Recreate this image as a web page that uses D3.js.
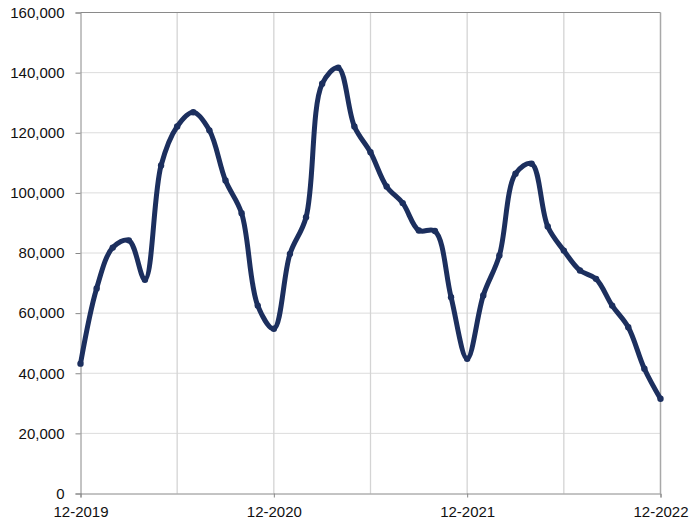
<!DOCTYPE html>
<html>
<head>
<meta charset="utf-8">
<script src="https://cdn.jsdelivr.net/npm/d3@7"></script>
<style>
  body { margin: 0; background: #fff; }
  svg { display: block; font-family: "Liberation Sans", Arial, sans-serif; }
</style>
</head>
<body>
<svg></svg>
<script>
const width = 691;
const height = 523;
const margin = {top: 12.5, right: 30.5, bottom: 29.5, left: 80.5};

// monthly values, 12-2019 .. 12-2022
const months = d3.range(37);
const values = [
  43200, 68200, 81800, 84200, 71100, 109100, 122100, 126800, 120800, 104100, 93200, 62500,
  54800, 79700, 91900, 136300, 141600, 122100, 113500, 102100, 96600, 87500, 87300, 65300,
  44800, 65900, 79200, 106400, 109700, 88800, 80800, 74200, 71400, 62500, 55300, 41500,
  31500
];
const xTickMonths = [0, 12, 24, 36];
const xTickLabels = ['12-2019', '12-2020', '12-2021', '12-2022'];
const gridMonths = [6, 18, 30, 12, 24];
const yTicks = d3.range(0, 160001, 20000);

const svg = d3.select('svg')
  .attr('width', width)
  .attr('height', height);

const x = d3.scaleLinear()
  .domain([0, 36])
  .range([margin.left, width - margin.right]);

const y = d3.scaleLinear()
  .domain([0, 160000])
  .range([height - margin.bottom, margin.top]);

// horizontal grid
svg.append('g')
  .selectAll('line')
  .data(yTicks.slice(1, -1))
  .enter()
  .append('line')
  .attr('x1', margin.left)
  .attr('x2', width - margin.right)
  .attr('y1', d => y(d))
  .attr('y2', d => y(d))
  .attr('stroke', '#dcdcdc')
  .attr('stroke-width', 1);

// vertical grid
svg.append('g')
  .selectAll('line')
  .data(gridMonths)
  .enter()
  .append('line')
  .attr('x1', d => x(d))
  .attr('x2', d => x(d))
  .attr('y1', margin.top)
  .attr('y2', height - margin.bottom)
  .attr('stroke', '#d4d4d4')
  .attr('stroke-width', 1.3);

// frame top / right
svg.append('line')
  .attr('x1', margin.left).attr('x2', width - margin.right)
  .attr('y1', margin.top).attr('y2', margin.top)
  .attr('stroke', '#8a8a8a');
svg.append('line')
  .attr('x1', width - margin.right).attr('x2', width - margin.right)
  .attr('y1', margin.top).attr('y2', height - margin.bottom)
  .attr('stroke', '#a8a8a8').attr('stroke-width', 1.5);

// y axis
const yAxis = svg.append('g')
  .attr('transform', `translate(${margin.left},0)`)
  .call(d3.axisLeft(y).tickValues(yTicks).tickFormat(d3.format(',')).tickSize(5).tickPadding(11));
yAxis.select('.domain').attr('stroke', '#888');
yAxis.selectAll('.tick line').attr('stroke', '#888');
yAxis.selectAll('text')
  .attr('fill', '#111')
  .attr('font-size', '15px')
  .attr('font-family', '"Liberation Sans", Arial, sans-serif');

// x axis
const xAxis = svg.append('g')
  .attr('transform', `translate(0,${height - margin.bottom})`)
  .call(d3.axisBottom(x).tickValues(xTickMonths).tickFormat((d, i) => xTickLabels[i]).tickSize(4).tickPadding(9));
xAxis.select('.domain').attr('stroke', '#888');
xAxis.selectAll('.tick line').attr('stroke', '#888');
xAxis.selectAll('text')
  .attr('fill', '#111')
  .attr('font-size', '15px')
  .attr('font-family', '"Liberation Sans", Arial, sans-serif');

// the line
const line = d3.line()
  .x((d, i) => x(months[i]))
  .y(d => y(d))
  .curve(d3.curveCatmullRom.alpha(0.5));

svg.append('path')
  .datum(values)
  .attr('d', line)
  .attr('fill', 'none')
  .attr('stroke', '#1c2f5e')
  .attr('stroke-width', 5)
  .attr('stroke-linecap', 'round')
  .attr('stroke-linejoin', 'round');

svg.selectAll('.pt')
  .data(values)
  .enter()
  .append('circle')
  .attr('class', 'pt')
  .attr('cx', (d, i) => x(months[i]))
  .attr('cy', d => y(d))
  .attr('r', 3.2)
  .attr('fill', '#1c2f5e');
</script>
</body>
</html>
